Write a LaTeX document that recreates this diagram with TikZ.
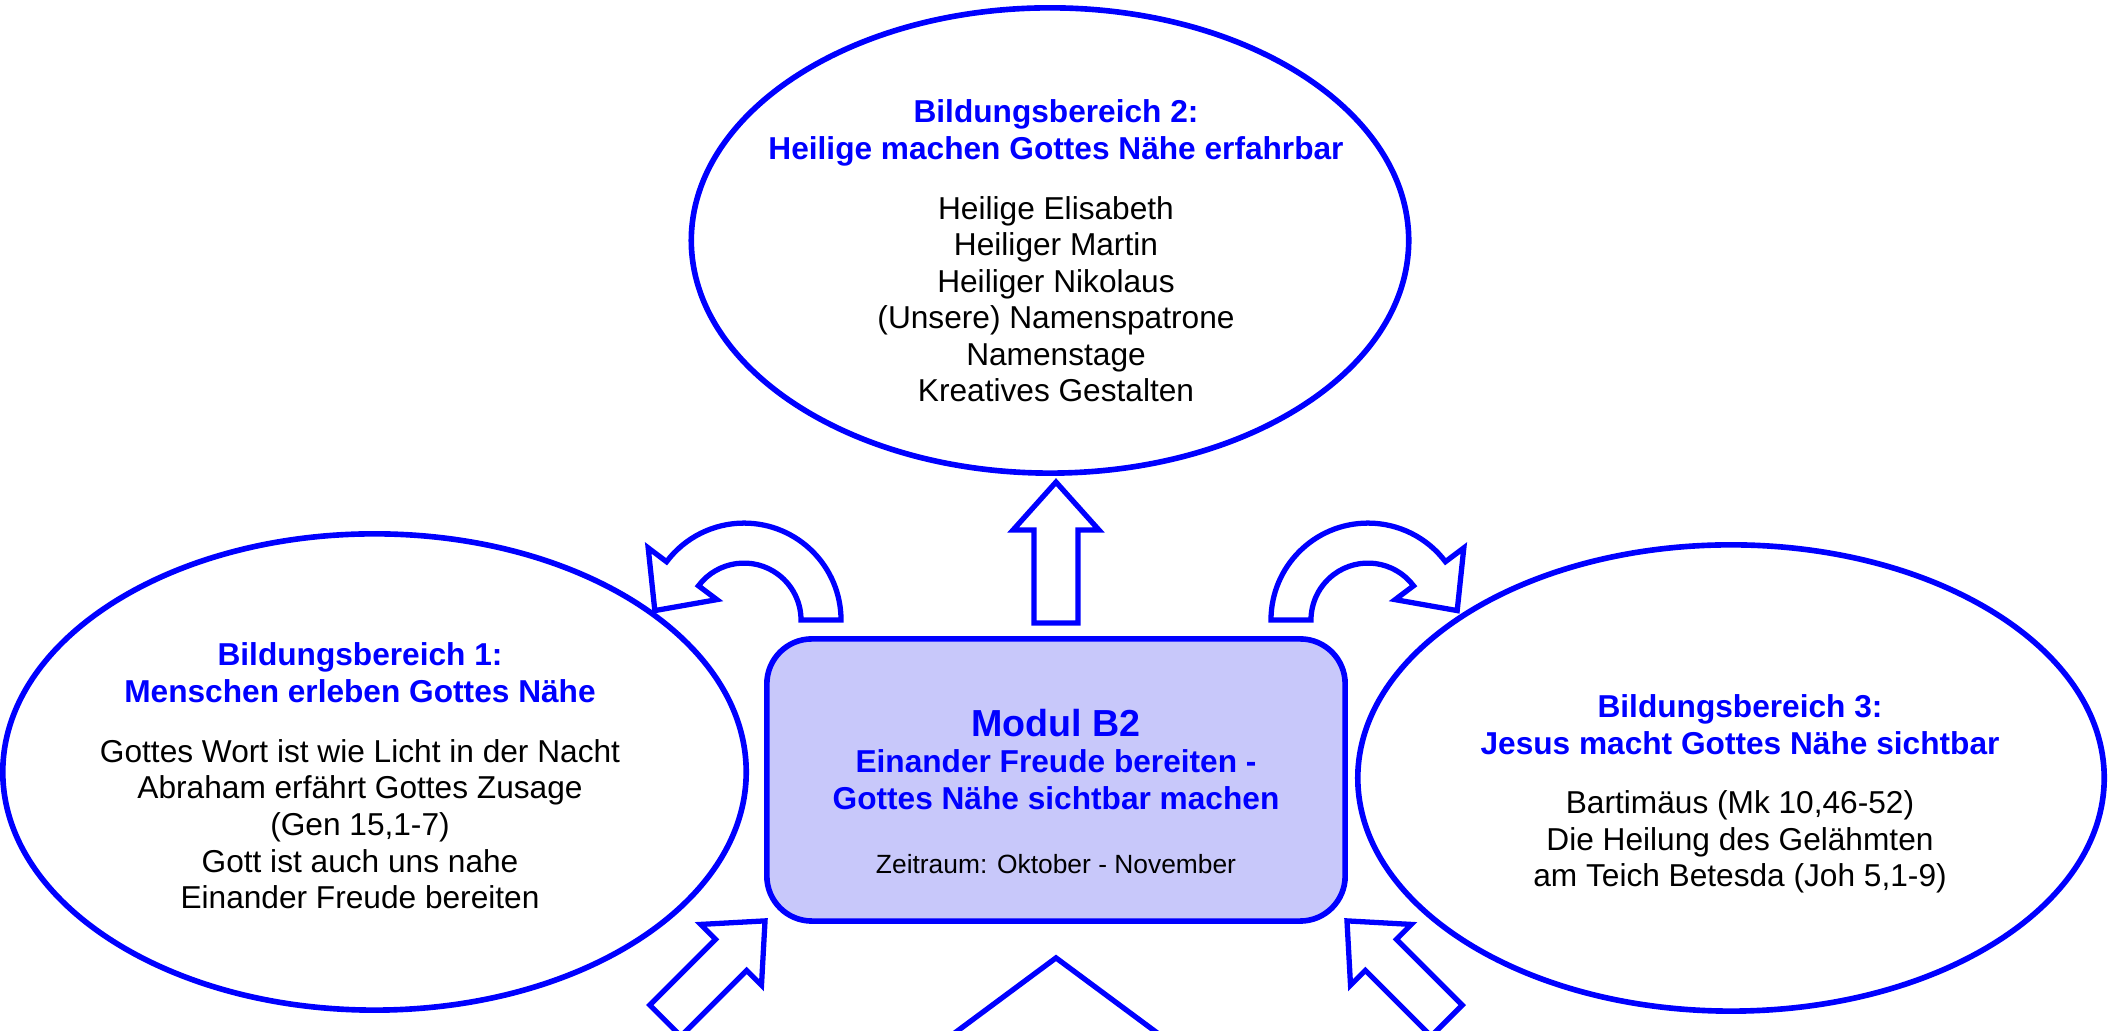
\documentclass[tikz,border=0pt]{standalone}
\usepackage{fontspec}
\setmainfont{Liberation Sans}
\usetikzlibrary{calc,shapes.geometric}
\definecolor{bblue}{RGB}{0,0,255}
\definecolor{modfill}{RGB}{200,200,250}
\newcommand\bbtitle[1]{\textcolor{bblue}{\bfseries #1}}

\tikzset{
  bubble/.style={draw=bblue, line width=1.6pt, ellipse, inner sep=0pt, fill=white},
  modbox/.style={draw=bblue, line width=1.6pt, rectangle, rounded corners=0.45cm,
    fill=modfill, inner sep=0pt, minimum width=5.78cm, minimum height=2.82cm},
  blocktext/.style={align=center, inner sep=0pt, font=\fontsize{9}{10.4}\selectfont},
  arrowshape/.style={draw=bblue, line width=1.5pt, fill=white, line join=miter},
  % straight block arrow, tip at the origin, pointing along +x
  pics/blockarrow/.style={code={
    \draw[arrowshape] (-141,-22) -- (-48,-22) -- (-48,-43) -- (0,0)
      -- (-48,43) -- (-48,22) -- (-141,22) -- cycle;}},
  % bent block arrow turning counter-clockwise about the origin
  pics/bentarrow/.style={code={
    \draw[arrowshape] (57,0) -- (97,0) arc[start angle=0, end angle=143, radius=97]
      -- (143:120) -- (-89.2,9.5) -- (143:34) -- (143:57)
      arc[start angle=143, end angle=0, radius=57] -- cycle;}}
}

\begin{document}
\begin{tikzpicture}[x=0.01cm, y=0.01cm]
\useasboundingbox (0,0) rectangle (2109,1031);

% the three fields and the module box
\node[bubble, minimum width=7.43cm, minimum height=4.76cm] (bb1) at (374.5,259) {};
\node[bubble, minimum width=7.17cm, minimum height=4.65cm] (bb2) at (1050,790.5) {};
\node[bubble, minimum width=7.46cm, minimum height=4.66cm] (bb3) at (1731,253) {};
\node[modbox] (modul) at (1056,251) {};

% texts
\node[blocktext] (bb1text) at (360,255) {%
  \bbtitle{Bildungsbereich 1:}\\
  \bbtitle{Menschen erleben Gottes Nähe}\\[6.6pt]
  Gottes Wort ist wie Licht in der Nacht\\
  Abraham erfährt Gottes Zusage\\
  (Gen 15,1-7)\\
  Gott ist auch uns nahe\\
  Einander Freude bereiten};

\node[blocktext] (bb2text) at (1056,780) {%
  \bbtitle{Bildungsbereich 2:}\\
  \bbtitle{Heilige machen Gottes Nähe erfahrbar}\\[6.6pt]
  Heilige Elisabeth\\
  Heiliger Martin\\
  Heiliger Nikolaus\\
  (Unsere) Namenspatrone\\
  Namenstage\\
  Kreatives Gestalten};

\node[blocktext] (bb3text) at (1740,237) {%
  \bbtitle{Bildungsbereich 3:}\\
  \bbtitle{Jesus macht Gottes Nähe sichtbar}\\[6.6pt]
  Bartimäus (Mk 10,46-52)\\
  Die Heilung des Gelähmten\\
  am Teich Betesda (Joh 5,1-9)};

\node[blocktext] (modtext) at (1056,239.5) {%
  \textcolor{bblue}{\fontsize{10.7}{12}\selectfont\bfseries Modul B2}\\
  \bbtitle{Einander Freude bereiten -}\\
  \bbtitle{Gottes Nähe sichtbar machen}\\[8pt]
  {\fontsize{7.5}{9}\selectfont Zeitraum: Oktober - November}};

% block arrows around the module box
\pic[rotate=90]  at ($(modul.north)+(0,154)$) {blockarrow};
\pic[rotate=45]  at ($(modul.south west)+(1,3)$) {blockarrow};
\pic[rotate=135] at ($(modul.south east)+(-1,3)$) {blockarrow};
\pic at ($(modul.north west)+(-20,16)$) {bentarrow};
\pic[xscale=-1] at ($(modul.north east)+(20,16)$) {bentarrow};

% head of the large arrow coming from below
\coordinate (bigtip) at ($(modul.south)+(0,-34)$);
\begin{scope}
  \clip (0,0) rectangle (2109,1031);
  \draw[arrowshape, fill=none] ($(bigtip)+(-116,-86)$) -- (bigtip) -- ($(bigtip)+(116,-86)$);
\end{scope}
\end{tikzpicture}
\end{document}
